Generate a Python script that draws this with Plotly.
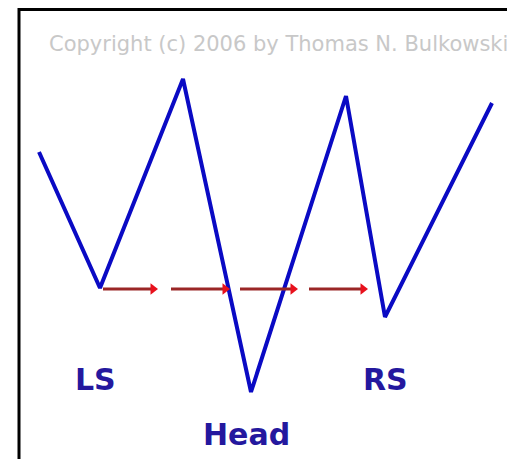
import plotly.graph_objects as go

# Head-and-shoulders zig-zag (pixel-space coordinates)
pattern_x = [39, 100, 183, 251, 346, 385, 492]
pattern_y = [152, 288, 79, 392, 96, 317, 103]

# Red neckline arrows
arrow_start_x = [103, 171, 240, 309]
arrow_end_x = [157, 229, 297, 367]
arrow_y = 289

# Labels
label_text = ["LS", "Head", "RS"]
label_x = [95, 246, 385]
label_y = [379, 434, 379]

copyright_text = "Copyright (c) 2006 by Thomas N. Bulkowski"

W, H = 515, 459
OFF = 8  # page body margin

fig = go.Figure()

fig.add_trace(go.Scatter(
    x=pattern_x, y=pattern_y, mode="lines",
    line=dict(color="#0a0ac4", width=4), hoverinfo="skip", showlegend=False,
))

for xs, xe in zip(arrow_start_x, arrow_end_x):
    fig.add_trace(go.Scatter(
        x=[xs, xe - 5], y=[arrow_y, arrow_y], mode="lines",
        line=dict(color="#9a2626", width=3), hoverinfo="skip", showlegend=False,
    ))
fig.add_trace(go.Scatter(
    x=[xe - 4 for xe in arrow_end_x], y=[arrow_y] * len(arrow_end_x), mode="markers",
    marker=dict(symbol="triangle-right", size=10, color="#e8101c", line=dict(width=0)),
    hoverinfo="skip", showlegend=False,
))

for t, x, y in zip(label_text, label_x, label_y):
    fig.add_annotation(
        x=x, y=y, text=f"<b>{t}</b>", showarrow=False,
        font=dict(family="DejaVu Sans", size=30, color="#24189e"),
        xanchor="center", yanchor="middle",
    )

fig.add_annotation(
    x=47, y=44, text=copyright_text, showarrow=False,
    font=dict(family="DejaVu Sans", size=21, color="#c8c8c8"),
    xanchor="left", yanchor="middle",
)

fig.add_shape(type="rect", x0=19, y0=9.5, x1=540, y1=480,
              line=dict(color="black", width=3), layer="above")

fig.update_layout(
    width=W - OFF, height=H - OFF,
    margin=dict(l=0, r=0, t=0, b=0),
    paper_bgcolor="white", plot_bgcolor="white",
    xaxis=dict(range=[OFF, W], visible=False, fixedrange=True),
    yaxis=dict(range=[H, OFF], visible=False, fixedrange=True),
)

fig.write_html("out.html")
